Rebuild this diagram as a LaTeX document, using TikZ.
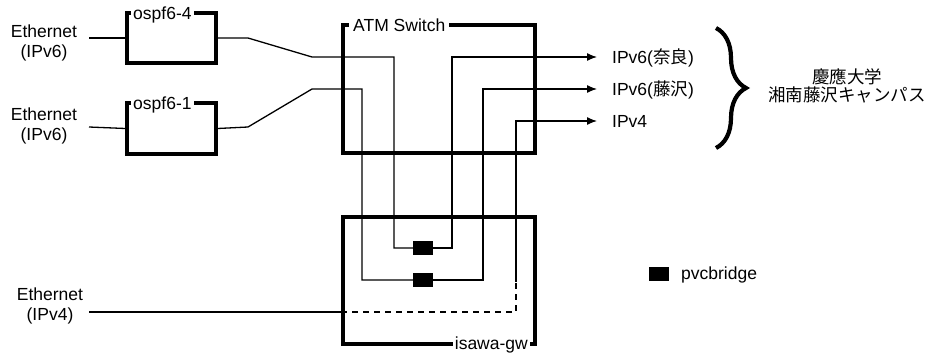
\documentclass[tikz,border=0pt]{standalone}
\usepackage{fontspec}
\setmainfont{Liberation Sans}
\newfontfamily\jpfont{Noto Sans CJK JP}
\usetikzlibrary{arrows.meta,decorations.pathreplacing}

\begin{document}
\begin{tikzpicture}[x=1pt,y=-1pt,
  font=\fontsize{17.5}{20}\selectfont,
  box/.style={draw,line width=3.2pt,inner sep=0pt},
  boxlabel/.style={fill=white,inner xsep=2pt,inner ysep=1pt},
  wire/.style={line width=1.3pt},
  outwire/.style={wire,-{Latex[length=10pt,width=8pt]}},
  bridge/.style={fill=black,minimum width=20pt,minimum height=14pt,inner sep=0pt},
  lan/.style={align=center,inner sep=0pt}]
  \useasboundingbox (0,0) rectangle (928,356);

  % boxes
  \node[box,minimum width=89pt,minimum height=50pt] (ospf4) at (171.5,38) {};
  \node[box,minimum width=89pt,minimum height=51pt] (ospf1) at (171.5,128.5) {};
  \node[box,minimum width=192pt,minimum height=128pt] (atm) at (439,89) {};
  \node[box,minimum width=192pt,minimum height=127pt] (isawa) at (439,280.5) {};
  \node[boxlabel,anchor=base west] (ospf4-l) at (131,19) {ospf6-4};
  \node[boxlabel,anchor=base west] (ospf1-l) at (131,109) {ospf6-1};
  \node[boxlabel,anchor=base west,inner xsep=4pt] (atm-l) at (349,31) {ATM Switch};
  \node[boxlabel,anchor=base east] (isawa-l) at (530,349) {isawa-gw};

  % ethernets
  \node[lan] (ethA) at (44,43) {Ethernet\\(IPv6)};
  \node[lan] (ethB) at (44,126) {Ethernet\\(IPv6)};
  \node[lan] (ethC) at (50,306) {Ethernet\\(IPv4)};
  \coordinate (ethA-e) at (89,38);
  \coordinate (ethB-e) at (89,127);
  \coordinate (ethC-e) at (89,312);

  % pvcbridges
  \node[bridge] (br1) at (423,248) {};
  \node[bridge] (br2) at (423,280) {};

  % outputs
  \node[anchor=base west,inner xsep=0pt] (nara) at (612,63) {IPv6({\jpfont 奈良})};
  \node[anchor=base west,inner xsep=0pt] (sfc) at (612,95) {IPv6({\jpfont 藤沢})};
  \node[anchor=base west,inner xsep=0pt] (ipv4) at (612,127) {IPv4};

  \draw[wire] (ethA-e) -- (ospf4.west);
  \draw[wire] (ethB-e) -- (ospf1.west);
  \draw[wire] (ospf4.east) -- (248,38) -- (312,57) -- (394,57) |- (br1.west);
  \draw[outwire] (br1.east) -| (452,57) -- ([xshift=-15pt]nara.west|-0,57);
  \draw[wire] (ospf1.east) -- (248,127) -- (312,89) -- (362,89) |- (br2.west);
  \draw[outwire] (br2.east) -| (483,89) -- ([xshift=-15pt]sfc.west|-0,89);
  \draw[wire] (ethC-e) -- (isawa.west|-0,312);
  \draw[wire,dash pattern=on 6pt off 5pt] (isawa.west|-0,312) -- (516,312) -- (516,282);
  \draw[outwire] (516,282) -- (516,121) -- ([xshift=-15pt]ipv4.west|-0,121);

  % campus
  \draw[line width=4.2pt,decorate,decoration={brace,amplitude=30pt,aspect=0.5}] (716,28) -- (716,148);
  \node[align=center,font=\fontsize{17.5}{18}\jpfont] (keio) at (847,86) {慶應大学\\湘南藤沢キャンパス};

  % legend
  \node[bridge] (leg) at (658.5,274) {};
  \node[anchor=west,inner sep=0pt] (leg-l) at (681,275) {pvcbridge};
\end{tikzpicture}
\end{document}
